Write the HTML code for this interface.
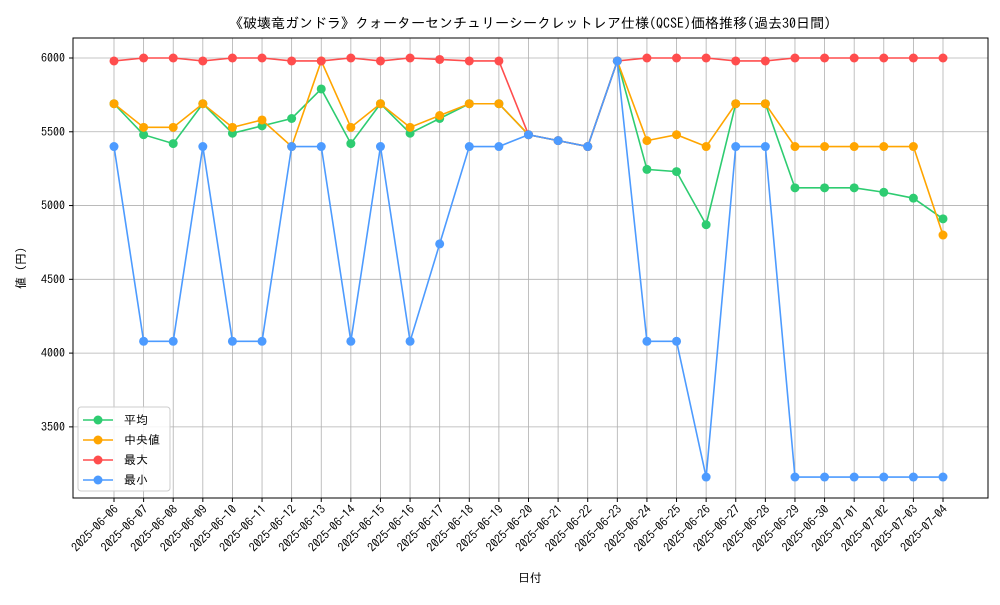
<!DOCTYPE html>
<html><head><meta charset="utf-8"><style>
body{margin:0;background:#fff;}
svg text{font-family:"IPAGothic","Liberation Mono","Noto Sans CJK JP",monospace;fill:#000;}
</style></head><body>
<svg id="chart" width="1000" height="600" xmlns="http://www.w3.org/2000/svg">
<rect x="0" y="0" width="1000" height="600" fill="#fff"/>
<g id="grid"></g>
<g id="series"></g>
<rect x="73" y="38" width="915" height="460" fill="none" stroke="#000" stroke-width="1"/>
<g id="axes"></g>
<text x="530" y="28" font-size="14" text-anchor="middle">《破壊竜ガンドラ》クォーターセンチュリーシークレットレア仕様(QCSE)価格推移(過去30日間)</text>
<text x="530" y="582" font-size="12" text-anchor="middle">日付</text>
<text x="0" y="0" font-size="12" text-anchor="middle" transform="translate(25,268) rotate(-90)">値 (円)</text>
<g id="legend"></g>
</svg>
<script>
const dates=["2025-06-06","2025-06-07","2025-06-08","2025-06-09","2025-06-10","2025-06-11","2025-06-12","2025-06-13","2025-06-14","2025-06-15","2025-06-16","2025-06-17","2025-06-18","2025-06-19","2025-06-20","2025-06-21","2025-06-22","2025-06-23","2025-06-24","2025-06-25","2025-06-26","2025-06-27","2025-06-28","2025-06-29","2025-06-30","2025-07-01","2025-07-02","2025-07-03","2025-07-04"];
const avgValues=[5690,5480,5420,5690,5490,5540,5590,5790,5420,5690,5490,5590,5690,5690,5480,5440,5400,5980,5245,5230,4870,5690,5690,5120,5120,5120,5090,5050,4910];
const medianValues=[5690,5530,5530,5690,5530,5580,5400,5980,5530,5690,5530,5610,5690,5690,5480,5440,5400,5980,5440,5480,5400,5690,5690,5400,5400,5400,5400,5400,4800];
const maxValues=[5980,6000,6000,5980,6000,6000,5980,5980,6000,5980,6000,5990,5980,5980,5480,5440,5400,5980,6000,6000,6000,5980,5980,6000,6000,6000,6000,6000,6000];
const minValues=[5400,4080,4080,5400,4080,4080,5400,5400,4080,5400,4080,4740,5400,5400,5480,5440,5400,5980,4080,4080,3160,5400,5400,3160,3160,3160,3160,3160,3160];
const yTicks=[3500,4000,4500,5000,5500,6000];
const seriesNames=["平均","中央値","最大","最小"];
const seriesColors=["#2ecc71","#ffa500","#ff4d4d","#4d9bff"];

const NS="http://www.w3.org/2000/svg";
function mk(t,a,p){const e=document.createElementNS(NS,t);for(const k in a)e.setAttribute(k,a[k]);p.appendChild(e);return e;}
const x0=114,x1=943;
function xs(i){return x0+(x1-x0)*i/(dates.length-1);}
function ys(v){return 58+(6000-v)*0.14755;}
const grid=document.getElementById('grid'),axes=document.getElementById('axes'),ser=document.getElementById('series'),leg=document.getElementById('legend');
dates.forEach((d,i)=>{
  const x=xs(i);
  const g=mk('line',{x1:x,x2:x,y1:38,y2:498,stroke:'#b0b0b0','stroke-width':0.8},grid);
  
  
  const t=mk('line',{x1:x,x2:x,y1:498,y2:502,stroke:'#000'},axes);
  
  
  const l=mk('text',{x:0,y:0,'font-size':12,'text-anchor':'end',transform:`translate(${x+5},${510}) rotate(-45)`},axes);
  l.textContent=d;
  
  
});
yTicks.forEach(v=>{
  const y=ys(v);
  const g=mk('line',{x1:73,x2:988,y1:y,y2:y,stroke:'#b0b0b0','stroke-width':0.8},grid);
  
  
  const t=mk('line',{x1:69,x2:73,y1:y,y2:y,stroke:'#000'},axes);
  
  
  const l=mk('text',{x:65,y:y+4,'font-size':12,'text-anchor':'end'},axes);
  l.textContent=v;
  
  
});
const allSeries=[avgValues,medianValues,maxValues,minValues];
allSeries.forEach((vals,s)=>{
  const g=mk('g',{},ser);
  
  
  const pl=mk('polyline',{points:vals.map((v,i)=>xs(i)+','+ys(v)).join(' '),fill:'none',stroke:seriesColors[s],'stroke-width':1.6},g);
  
  
  vals.forEach((v,i)=>{
    const c=mk('circle',{cx:xs(i),cy:ys(v),r:4.5,fill:seriesColors[s]},g);
    
    
  });
});
mk('rect',{x:78,y:407,width:92,height:84,rx:3,fill:'#fff','fill-opacity':0.85,stroke:'#ccc'},leg);
seriesNames.forEach((n,s)=>{
  const y=420+s*20;
  const e=mk('g',{},leg);
  
  
  mk('line',{x1:83,x2:113,y1:y,y2:y,stroke:seriesColors[s],'stroke-width':1.6},e);
  mk('circle',{cx:98,cy:y,r:4.5,fill:seriesColors[s]},e);
  const t=mk('text',{x:124,y:y+4,'font-size':12},e);
  t.textContent=n;
});
</script>
</body></html>
